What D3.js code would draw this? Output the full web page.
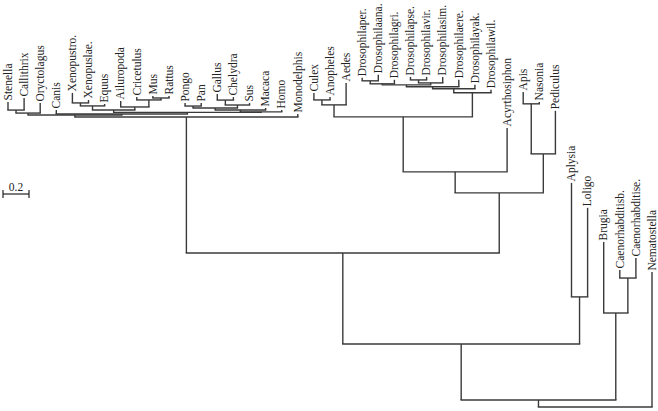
<!DOCTYPE html>
<html><head><meta charset="utf-8">
<script src="https://cdn.jsdelivr.net/npm/d3@7"></script>
<style>
html,body{margin:0;padding:0;background:#fff;}
svg{display:block;}
</style></head>
<body>
<svg id="chart" width="658" height="411"></svg>
<script>
// Leaf order (left to right)
const leafOrder = ["Stenella","Callithrix","Oryctolagus","Canis","Xenopustro.","Xenopuslae.","Equus","Ailuropoda","Cricetulus","Mus","Rattus","Pongo","Pan","Gallus","Chelydra","Sus","Macaca","Homo","Monodelphis","Culex","Anopheles","Aedes","Drosophilaper.","Drosophilaana.","Drosophilagri.","Drosophilapse.","Drosophilavir.","Drosophilasim.","Drosophilaere.","Drosophilayak.","Drosophilawil.","Acyrthosiphon","Apis","Nasonia","Pediculus","Aplysia","Loligo","Brugia","Caenorhabditisb.","Caenorhabditise.","Nematostella"];

// Tree edges: node, parent, branch length
const nodeIds = ["root","A","B","C","V","Av","Vb","Va","Stenella","Callithrix","Oryctolagus","Bv","Canis","Cp","Vxr","Vd","Vc","Xenopustro.","Xenopuslae.","Equus","Vrod","Ailuropoda","Vcmr","Cricetulus","Vmr","Mus","Rattus","P6","P5","P4","P1","Pongo","Pan","P3","P2","Gallus","Chelydra","Sus","Macaca","Homo","Monodelphis","Arth","I2","I1","M2","M1","Culex","Anopheles","Aedes","D8","D7","D6","D5","D2","D1","Drosophilaper.","Drosophilaana.","Drosophilagri.","D4","D3","Drosophilapse.","Drosophilavir.","Drosophilasim.","Drosophilaere.","Drosophilayak.","Drosophilawil.","Acyrthosiphon","H","H1","Apis","Nasonia","Pediculus","Moll","Aplysia","Loligo","N","Brugia","CC","Caenorhabditisb.","Caenorhabditise.","Nematostella"];
const parentIds = ["","root","A","B","C","V","Av","Vb","Va","Va","Vb","Av","Bv","Bv","Cp","Vxr","Vd","Vc","Vc","Vd","Vxr","Vrod","Vrod","Vcmr","Vcmr","Vmr","Vmr","Cp","P6","P5","P4","P1","P1","P4","P3","P2","P2","P3","P5","P6","V","C","Arth","I2","I1","M2","M1","M1","M2","I1","D8","D7","D6","D5","D2","D1","D1","D2","D5","D4","D3","D3","D4","D6","D7","D8","I2","Arth","H","H1","H1","H","B","Moll","Moll","A","N","N","CC","CC","root"];
const branchLengths = [0,0.054,0.431,0.700,1.046,0.015,0.015,0.023,0.062,0.092,0.077,0.008,0.031,0.012,0.019,0.031,0.023,0.077,0.023,0.015,0.023,0.046,0.054,0.023,0.015,0.015,0.015,0.004,0.015,0.015,0.015,0.023,0.023,0.023,0.038,0.046,0.023,0.015,0.015,0.015,0.023,0.462,0.162,0.423,0.092,0.038,0.054,0.023,0.169,0.185,0.031,0.015,0.015,0.008,0.023,0.023,0.046,0.031,0.015,0.023,0.023,0.023,0.046,0.054,0.031,0.023,0.338,0.300,0.385,0.092,0.015,0.331,0.362,0.877,0.685,0.669,0.546,0.269,0.062,0.154,1.038];

const scaleBarValue = 0.2;
const scaleBarLabel = "0.2";

const rows = nodeIds.map((id,i)=>({id, parent: parentIds[i] || null, len: branchLengths[i]}));
const root = d3.stratify().id(d=>d.id).parentId(d=>d.parent)(rows);
root.eachBefore(n=>{ n.depthLen = n.parent ? n.parent.depthLen + n.data.len : 0; });

const x = d3.scalePoint().domain(leafOrder).range([8, 652]).padding(0);
const y = d3.scaleLinear().domain([0, 1]).range([407, 277]);

root.eachAfter(n=>{
  if(!n.children) n.px = x(n.id);
  else n.px = (n.children[0].px + n.children[n.children.length-1].px)/2;
  n.py = y(n.depthLen);
});

const svg = d3.select("#chart");
const g = svg.append("g");
const stroke = "#3a3a3a";

// horizontal connectors
root.descendants().filter(n=>n.children).forEach(n=>{
  g.append("line")
    .attr("x1", n.children[0].px).attr("x2", n.children[n.children.length-1].px)
    .attr("y1", n.py).attr("y2", n.py)
    .attr("stroke", stroke).attr("stroke-width", 1.4).attr("stroke-linecap","square");
});
// vertical branches
root.descendants().filter(n=>n.parent).forEach(n=>{
  g.append("line")
    .attr("x1", n.px).attr("x2", n.px)
    .attr("y1", n.parent.py).attr("y2", n.py)
    .attr("stroke", stroke).attr("stroke-width", 1.4);
});
// labels
root.leaves().forEach(n=>{
  g.append("text")
    .attr("transform", `translate(${n.px},${n.py - 1.5}) rotate(-90)`)
    .attr("dy", "0.33em")
    .attr("font-family", "'Liberation Serif', 'DejaVu Serif', serif")
    .attr("font-size", 11.5)
    .attr("fill", "#222")
    .text(n.id);
});

// scale bar
const sbLen = y(0) - y(scaleBarValue);
const sb = svg.append("g").attr("stroke", "#222").attr("stroke-width", 1.2);
sb.append("line").attr("x1",3).attr("x2",3+sbLen).attr("y1",194).attr("y2",194);
sb.append("line").attr("x1",3).attr("x2",3).attr("y1",190).attr("y2",198);
sb.append("line").attr("x1",3+sbLen).attr("x2",3+sbLen).attr("y1",190).attr("y2",198);
svg.append("text").attr("x", 3+sbLen/2).attr("y", 191)
  .attr("text-anchor","middle")
  .attr("font-family", "'Liberation Serif', serif")
  .attr("font-size", 11.5).attr("fill","#222")
  .text(scaleBarLabel);
</script>
</body></html>
